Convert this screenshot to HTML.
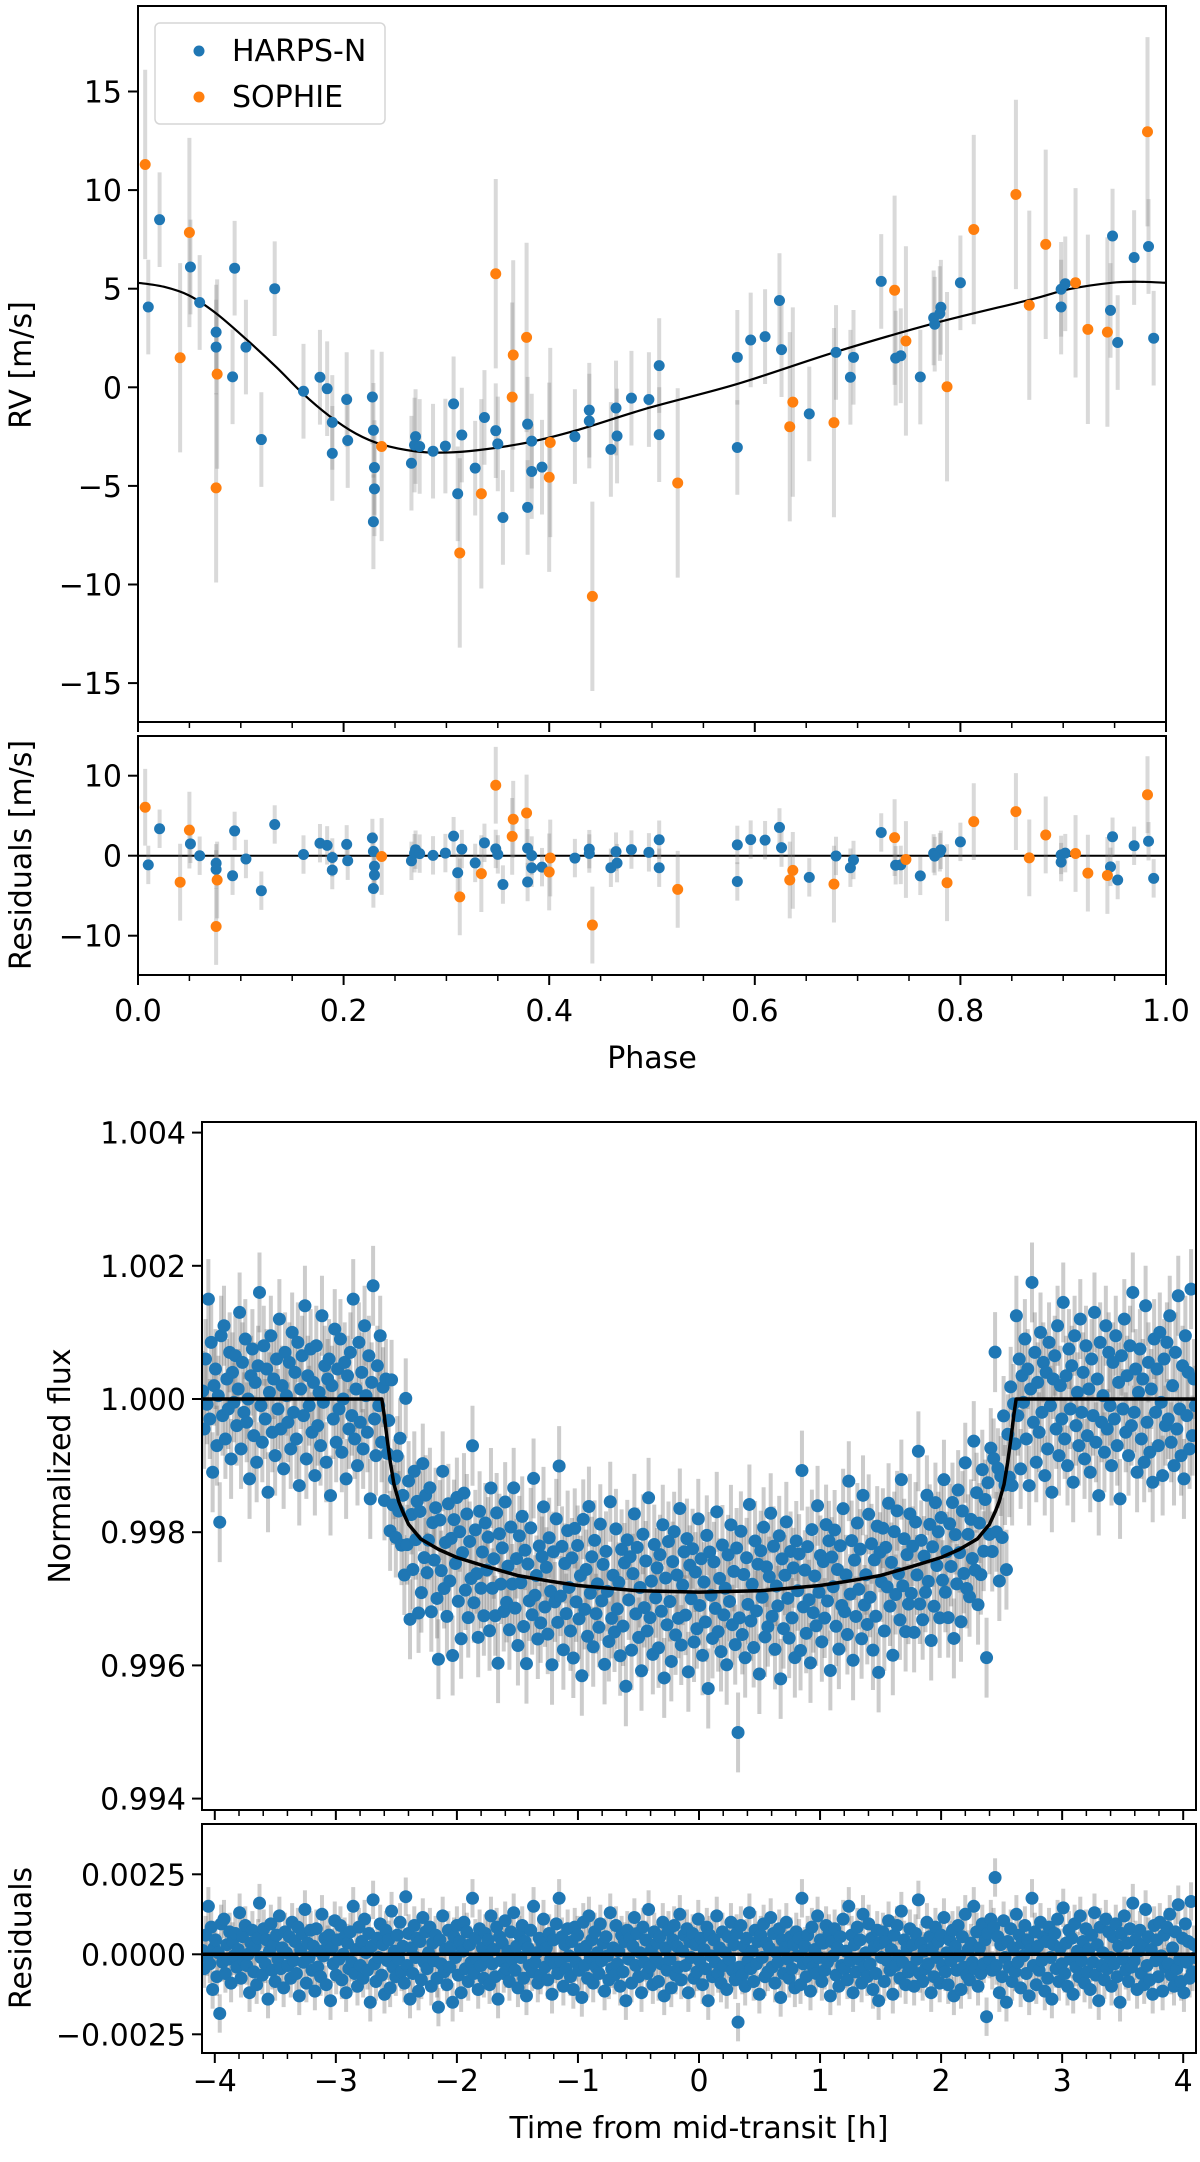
<!DOCTYPE html>
<html><head><meta charset="utf-8"><style>
html,body{margin:0;padding:0;background:#fff;}
svg text{font-family:"DejaVu Sans","Liberation Sans",sans-serif;fill:#000;}
</style></head><body>
<svg id="fig" xmlns="http://www.w3.org/2000/svg" width="1200" height="2157" viewBox="0 0 1200 2157">
<rect width="1200" height="2157" fill="#fff"/>
<defs>
<clipPath id="cRV"><rect x="138" y="6" width="1028" height="716"/></clipPath>
<clipPath id="cRR"><rect x="138" y="736" width="1028" height="239"/></clipPath>
<clipPath id="cTF"><rect x="202" y="1122" width="994" height="688"/></clipPath>
<clipPath id="cTR"><rect x="202" y="1824" width="994" height="229"/></clipPath>
</defs>
<g id="root"></g>
</svg>
<script>
// ---------- RV data ----------
const harpsPhase=[.010,.021,.051,.060,.094,.133,.076,.076,.105,.092,.120,.161,.177,.184,.189,.189,.203,.204,.228,.229,.230,.230,.229,.266,.270,.269,.274,.287,.299,.307,.315,.311,.328,.337,.348,.350,.355,.379,.383,.383,.393,.379,.425,.439,.439,.460,.465,.466,.480,.497,.507,.507,.583,.583,.596,.610,.624,.626,.653,.679,.696,.693,.723,.737,.742,.761,.774,.781,.780,.775,.800,.898,.902,.898,.946,.948,.953,.969,.983,.988];
const harpsRV=[4.07,8.5,6.1,4.3,6.04,5.0,2.8,2.04,2.04,0.53,-2.65,-0.2,0.51,-0.07,-1.78,-3.35,-0.62,-2.7,-0.49,-2.18,-4.07,-5.15,-6.82,-3.85,-2.5,-2.93,-3.0,-3.24,-2.98,-0.84,-2.42,-5.4,-4.1,-1.53,-2.2,-2.87,-6.6,-1.87,-2.73,-4.27,-4.05,-6.09,-2.5,-1.16,-1.71,-3.15,-1.05,-2.47,-0.55,-0.62,1.1,-2.4,1.52,-3.05,2.4,2.57,4.4,1.91,-1.35,1.77,1.52,0.51,5.37,1.48,1.6,0.52,3.52,4.06,3.74,3.2,5.3,4.97,5.25,4.07,3.9,7.67,2.27,6.58,7.14,2.49];
const sophiePhase=[.007,.050,.041,.077,.076,.348,.365,.378,.364,.237,.401,.400,.334,.313,.442,.525,.637,.634,.677,.736,.747,.787,.813,.854,.883,.867,.912,.924,.943,.982];
const sophieRV=[11.3,7.85,1.5,0.67,-5.1,5.76,1.64,2.53,-0.5,-3.0,-2.8,-4.56,-5.4,-8.4,-10.6,-4.85,-0.75,-2.0,-1.79,4.92,2.35,0.03,8.0,9.78,7.25,4.16,5.3,2.94,2.8,12.96];
const harpsErr=[2.4];
const sophieErr=[4.8];
const modelPhase=[0,.025,.05,.076,.105,.135,.16,.186,.212,.237,.27,.30,.332,.38,.426,.497,.583,.679,.775,.867,.905,.947,.975,1.0];
const modelRV=[5.3,5.1,4.65,3.75,2.45,1.0,-0.3,-1.45,-2.35,-2.9,-3.25,-3.31,-3.18,-2.79,-2.19,-1.04,0.17,1.8,3.25,4.43,4.97,5.3,5.35,5.3];
const rvYTicks=[-15,-10,-5,0,5,10,15];
const resYTicks=[-10,0,10];
const phaseTicks=[0,0.2,0.4,0.6,0.8,1.0];

// ---------- transit data ----------
const tStart=[-4.1];
const tEnd=[4.1];
const transitModelT=[-4.2,-2.62,-2.6,-2.58,-2.55,-2.52,-2.48,-2.45,-2.4,-2.3,-2.15,-2.0,-1.75,-1.5,-1.25,-1,-0.5,0,0.5,1,1.25,1.5,1.75,2.0,2.15,2.3,2.4,2.45,2.48,2.52,2.55,2.58,2.6,2.62,4.2];
const transitModelF=[1.0,1.0,0.99975,0.99945,0.99905,0.99872,0.99846,0.99832,0.99812,0.99790,0.99774,0.99762,0.99748,0.99735,0.99727,0.99720,0.99712,0.99710,0.99712,0.99720,0.99727,0.99735,0.99748,0.99762,0.99774,0.99790,0.99812,0.99832,0.99846,0.99872,0.99905,0.99945,0.99975,1.0,1.0];
const transitErr=[0.0006];
// residuals in units of 1e-5
const transitRes=[
12,-45,60,-8,150,-30,85,-110,20,45,-70,5,-185,95,-25,110,-60,30,-15,70,
-90,40,-5,65,-40,15,130,-75,55,-20,90,-35,0,-120,35,75,-55,25,-95,50,
160,-10,-65,80,-30,45,-140,10,95,-50,30,-85,60,-15,120,-45,20,-105,70,5,
-35,55,-75,100,-20,40,-60,85,-130,15,65,-25,140,-90,35,-10,75,-50,25,-115,
80,-40,10,-70,125,-5,50,-95,30,60,-145,20,-30,105,-65,45,-15,90,-80,0,
55,-120,35,-45,70,-25,150,-60,15,-100,85,-35,40,-75,110,5,-50,65,-150,25,
170,-30,-85,50,-10,95,-65,30,-125,75,-20,45,-105,135,-40,10,-70,60,-15,100,
-55,25,-90,180,-35,65,-140,20,-60,90,-10,50,-115,40,-80,115,-25,70,-45,5,
85,-100,35,-20,60,-75,-165,45,-30,120,-55,15,-95,75,-40,25,-150,55,-10,90,
-65,40,-120,10,100,-45,70,-85,30,-25,175,-60,50,-15,-110,80,-35,20,-75,65,
-5,45,-95,120,-30,15,-70,85,-140,55,-20,35,-60,105,-45,10,-85,70,-15,130,
-50,25,-105,60,-10,90,-75,40,-130,20,-35,75,-55,150,-25,5,-90,50,-65,35,
110,-40,20,-80,65,-15,-125,45,-30,95,-60,175,-20,55,-100,30,-45,80,-5,-70,
40,-110,85,-25,60,-50,15,-135,100,-35,25,-75,120,-10,45,-90,70,-40,5,-60,
95,-20,35,-115,55,-5,-80,130,-45,20,-65,90,-30,10,-100,60,-55,40,-145,75,
-15,50,-90,25,115,-35,65,-70,5,-120,85,-25,45,-60,140,-40,15,-95,70,-10,
35,-85,55,-30,100,-130,20,-50,75,-15,-105,45,90,-65,25,-40,125,-80,10,60,
-35,80,-120,40,-10,65,-75,30,-55,110,-20,50,-95,15,-45,85,-145,60,-5,-70,
45,-25,120,-60,20,-90,70,-35,5,-110,55,-15,100,-50,30,-80,65,-212,-40,90,
-65,25,-100,50,-20,130,-45,10,-85,75,-30,40,-125,60,-10,95,-70,35,-55,20,
115,-40,65,-90,5,-25,80,-135,45,-60,20,100,-15,-75,55,-45,30,-105,70,-5,
50,-95,175,-30,25,-70,60,-20,-115,85,-40,15,-60,120,-10,45,-85,35,-50,90,
-25,65,-130,40,-5,80,-65,20,-100,55,-35,110,-45,10,-80,150,-20,60,-120,30,
-55,85,-15,45,-90,125,-40,5,-70,95,-30,50,-110,25,-60,75,-145,35,-10,70,
-85,40,-20,105,-50,15,-125,60,-35,90,-5,-75,135,-25,45,-95,20,-55,80,-40,
30,-100,65,-15,170,-60,35,-85,10,-45,100,-30,55,-120,20,-70,85,-10,40,-90,
60,-35,115,-55,5,-95,45,-20,75,-130,25,-50,90,-5,-110,55,-40,125,-65,15,
-80,35,-25,150,-45,70,-100,20,-60,95,-30,45,-195,65,-15,110,-50,85,240,-35,
55,-120,30,-70,105,-10,-150,40,-40,80,-85,20,-55,125,-25,60,-105,35,-5,90,
-60,45,-130,15,175,-35,70,-95,25,-50,100,-20,55,-115,40,-75,85,-10,-140,30,
65,-45,110,-85,20,-30,145,-60,35,-100,75,-15,50,-125,95,-40,10,-70,120,-20,
40,-90,80,-55,15,-110,60,-25,130,-65,30,-145,85,-35,5,-80,110,-45,70,-10,
-100,55,-30,95,-70,25,-150,65,-15,120,-50,35,-85,80,-40,160,-20,45,-110,10,
75,-60,30,-95,140,-35,55,-80,15,-125,90,-20,45,-70,100,-5,-115,60,-40,85,
-30,125,-65,20,-100,70,-45,155,-15,-85,50,-120,95,-25,40,-75,165,-55,30,-10];
const fluxYTicks=[0.994,0.996,0.998,1.000,1.002,1.004];
const tResYTicks=[-0.0025,0,0.0025];
const timeTicks=[-4,-3,-2,-1,0,1,2,3,4];

// ---------- scales ----------
const xs=p=>138+p*1028;
const ys=v=>387.3-v*19.72;
const yr=v=>855.7-v*8;
const xt=t=>699+t*121.05;
const yf=f=>1399-(f-1)*66600;
const ytr=r=>1954.3-r*32000;

const NS="http://www.w3.org/2000/svg";
const root=document.getElementById('root');
function mk(tag,attrs,parent){const e=document.createElementNS(NS,tag);for(const k in attrs)e.setAttribute(k,attrs[k]);(parent||root).appendChild(e);return e;}
function grp(name,clip){const g=mk('g',clip?{'clip-path':'url(#'+clip+')'}:{});


return g;}
function interp(xa,ya,x){if(x<=xa[0])return ya[0];for(let i=1;i<xa.length;i++){if(x<=xa[i]){const f=(x-xa[i-1])/(xa[i]-xa[i-1]);return ya[i-1]+f*(ya[i]-ya[i-1]);}}return ya[ya.length-1];}
function fmt(v,d){const s=Math.abs(v).toFixed(d);return (v<0?'\u2212':'')+s;}
function label(txt,x,y,anchor,name,rot){const t=mk('text',{x:x,y:y,'font-size':'30','text-anchor':anchor});
if(rot)t.setAttribute('transform','rotate(-90 '+x+' '+y+')');
t.textContent=txt;


return t;}
function smoothPath(pts){let d='M'+pts[0][0]+','+pts[0][1];for(let i=0;i<pts.length-1;i++){const p0=pts[Math.max(0,i-1)],p1=pts[i],p2=pts[i+1],p3=pts[Math.min(pts.length-1,i+2)];
const c1=[p1[0]+(p2[0]-p0[0])/6,p1[1]+(p2[1]-p0[1])/6],c2=[p2[0]-(p3[0]-p1[0])/6,p2[1]-(p3[1]-p1[1])/6];
d+=' C'+c1[0]+','+c1[1]+' '+c2[0]+','+c2[1]+' '+p2[0]+','+p2[1];}return d;}

// ---------- RV panel ----------
const gRVe=grp('rv-errorbars','cRV');
function rvSeries(ph,rv,err,color,name,gE,gP,yfun,resid){
  for(let i=0;i<ph.length;i++){
    const v=resid?rv[i]-interp(modelPhase,modelRV,ph[i]):rv[i];
    const l=mk('line',{x1:xs(ph[i]),x2:xs(ph[i]),y1:yfun(v-err[0]),y2:yfun(v+err[0]),stroke:'#808080','stroke-opacity':'0.3','stroke-width':'4'},gE);
    
    
  }
  for(let i=0;i<ph.length;i++){
    const v=resid?rv[i]-interp(modelPhase,modelRV,ph[i]):rv[i];
    const c=mk('circle',{cx:xs(ph[i]),cy:yfun(v),r:'5.5',fill:color},gP);
    
    
  }
}
const gRVm=grp('rv-model-curve','cRV');
const mp=mk('path',{d:smoothPath(modelPhase.map((p,i)=>[xs(p),ys(modelRV[i])])),fill:'none',stroke:'#000','stroke-width':'2.2'},gRVm);


const gRVp=grp('rv-points','cRV');
rvSeries(harpsPhase,harpsRV,harpsErr,'#1f77b4','harps-n',gRVe,gRVp,ys,false);
rvSeries(sophiePhase,sophieRV,sophieErr,'#ff7f0e','sophie',gRVe,gRVp,ys,false);

const gRRz=grp('rv-residual-zero-line','cRR');
const zl=mk('line',{x1:138,x2:1166,y1:yr(0),y2:yr(0),stroke:'#000','stroke-width':'2'},gRRz);


const gRRe=grp('rv-residual-errorbars','cRR');
const gRRp=grp('rv-residual-points','cRR');
rvSeries(harpsPhase,harpsRV,harpsErr,'#1f77b4','harps-n-residual',gRRe,gRRp,yr,true);
rvSeries(sophiePhase,sophieRV,sophieErr,'#ff7f0e','sophie-residual',gRRe,gRRp,yr,true);

const gAx=grp('rv-axes');
function frame(x,y,w,h,name){const r=mk('rect',{x:x,y:y,width:w,height:h,fill:'none',stroke:'#000','stroke-width':'2'},gAx);

}
frame(138,6,1028,716,'rv-plot-frame');
frame(138,736,1028,239,'rv-residual-plot-frame');
rvYTicks.forEach(v=>{mk('line',{x1:128,x2:138,y1:ys(v),y2:ys(v),stroke:'#000','stroke-width':'2'},gAx);label(fmt(v,0),122,ys(v)+11,'end','rv-y-tick-label');});
resYTicks.forEach(v=>{mk('line',{x1:128,x2:138,y1:yr(v),y2:yr(v),stroke:'#000','stroke-width':'2'},gAx);label(fmt(v,0),122,yr(v)+11,'end','residual-y-tick-label');});
for(let k=0;k<=20;k++){const p=k*0.05,maj=(k%4===0),L=maj?10:6;
  [722,975].forEach(yb=>mk('line',{x1:xs(p),x2:xs(p),y1:yb,y2:yb+L,stroke:'#000','stroke-width':maj?'2':'1.5'},gAx));}
phaseTicks.forEach(p=>label(p.toFixed(1),xs(p),1021,'middle','phase-tick-label'));
label('Phase',652,1068,'middle','x-axis-title-phase');
label('RV [m/s]',31,365,'middle','y-axis-title-rv',true);
label('Residuals [m/s]',31,855,'middle','y-axis-title-rv-residuals',true);

const gL=grp('legend');
const lb=mk('rect',{x:155,y:23,width:230,height:101,rx:5,fill:'#fff','fill-opacity':'0.8',stroke:'#d6d6d6','stroke-width':'1.5'},gL);


mk('circle',{cx:199,cy:51,r:5.5,fill:'#1f77b4'},gL);
label('HARPS-N',232,61,'start','legend-entry-harps-n');
mk('circle',{cx:199,cy:97,r:5.5,fill:'#ff7f0e'},gL);
label('SOPHIE',232,107,'start','legend-entry-sophie');

// ---------- Transit panels ----------
const N=transitRes.length;
const tTimes=transitRes.map((_,i)=>tStart[0]+i*(tEnd[0]-tStart[0])/(N-1));
const gTFe=grp('transit-errorbars','cTF'), gTRe=grp('transit-residual-errorbars','cTR');
for(let i=0;i<N;i++){
  const r=transitRes[i]*1e-5, f=interp(transitModelT,transitModelF,tTimes[i])+r, x=xt(tTimes[i]);
  const a=mk('line',{x1:x,x2:x,y1:yf(f-transitErr[0]),y2:yf(f+transitErr[0]),stroke:'#6e6e6e','stroke-opacity':'0.35','stroke-width':'4'},gTFe);
  
  
  const b=mk('line',{x1:x,x2:x,y1:ytr(r-transitErr[0]),y2:ytr(r+transitErr[0]),stroke:'#6e6e6e','stroke-opacity':'0.35','stroke-width':'4'},gTRe);
  
  
}
const gTFp=grp('transit-flux-points','cTF'), gTRp=grp('transit-residual-points','cTR');
for(let i=0;i<N;i++){
  const r=transitRes[i]*1e-5, f=interp(transitModelT,transitModelF,tTimes[i])+r, x=xt(tTimes[i]);
  const a=mk('circle',{cx:x,cy:yf(f),r:'6.5',fill:'#1f77b4'},gTFp);
  
  
  const b=mk('circle',{cx:x,cy:ytr(r),r:'6.5',fill:'#1f77b4'},gTRp);
  
  
}
const gTm=grp('transit-model-curve','cTF');
const tm=mk('polyline',{points:transitModelT.map((t,i)=>xt(t)+','+yf(transitModelF[i])).join(' '),fill:'none',stroke:'#000','stroke-width':'3.5','stroke-linejoin':'round'},gTm);


const gTz=grp('transit-residual-zero','cTR');
const tz=mk('line',{x1:202,x2:1196,y1:ytr(0),y2:ytr(0),stroke:'#000','stroke-width':'3.5'},gTz);



const gAx2=grp('transit-axes');
function frame2(x,y,w,h,name){const r=mk('rect',{x:x,y:y,width:w,height:h,fill:'none',stroke:'#000','stroke-width':'2'},gAx2);

}
frame2(202,1122,994,688,'flux-plot-frame');
frame2(202,1824,994,229,'transit-residual-plot-frame');
fluxYTicks.forEach(v=>{mk('line',{x1:192,x2:202,y1:yf(v),y2:yf(v),stroke:'#000','stroke-width':'2'},gAx2);label(v.toFixed(3),186,yf(v)+11,'end','flux-y-tick-label');});
tResYTicks.forEach(v=>{mk('line',{x1:192,x2:202,y1:ytr(v),y2:ytr(v),stroke:'#000','stroke-width':'2'},gAx2);label(fmt(v,4),186,ytr(v)+11,'end','transit-residual-y-tick-label');});
for(let k=-20;k<=20;k++){const t=k*0.2,maj=(k%5===0),L=maj?10:6;
  [1810,2053].forEach(yb=>mk('line',{x1:xt(t),x2:xt(t),y1:yb,y2:yb+L,stroke:'#000','stroke-width':maj?'2':'1.5'},gAx2));}
timeTicks.forEach(t=>label(fmt(t,0),xt(t),2091,'middle','time-tick-label'));
label('Time from mid-transit [h]',699,2138,'middle','x-axis-title-time');
label('Normalized flux',70,1466,'middle','y-axis-title-flux',true);
label('Residuals',31,1938,'middle','y-axis-title-transit-residuals',true);
</script>
</body></html>
